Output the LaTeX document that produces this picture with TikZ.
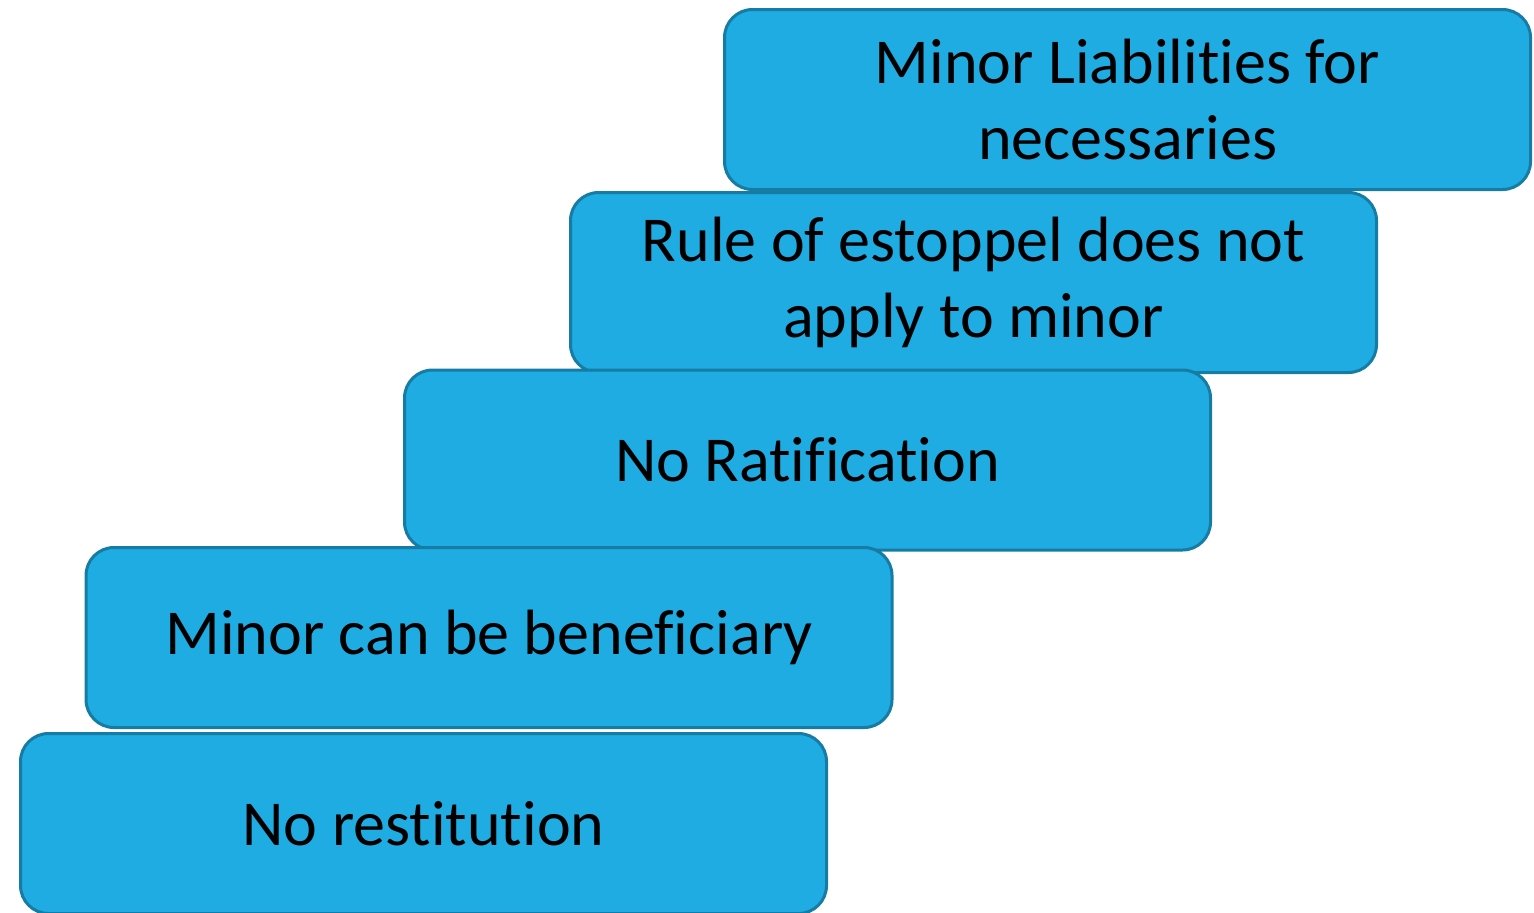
\documentclass[tikz,border=0pt]{standalone}
\usepackage{fontspec}
\setmainfont[Ligatures=NoCommon]{Carlito}
\definecolor{boxfill}{RGB}{30,172,226}
\definecolor{boxline}{RGB}{22,124,164}
\begin{document}
\begin{tikzpicture}[x=0.5pt,y=-0.5pt]
\tikzset{
  stepbox/.style={draw=boxline, fill=boxfill, line width=1.5pt, rounded corners=14pt,
    minimum width=403pt, minimum height=90pt, inner sep=0pt, align=center,
    font=\fontsize{32pt}{38pt}\selectfont, text=black}
}
\useasboundingbox (0,0) rectangle (1534,912);
\node[stepbox] (b1) at (1127.5,99.5) {Minor Liabilities for\\necessaries};
\node[stepbox] (b2) at (973.5,282.5) {Rule of estoppel does not\\apply to minor};
\node[stepbox] (b3) at (807.5,460) {No Ratification};
\node[stepbox] (b4) at (489,637.5) {Minor can be beneficiary};
\node[stepbox] (b5) at (423.5,823.5) {No restitution};
\end{tikzpicture}
\end{document}
